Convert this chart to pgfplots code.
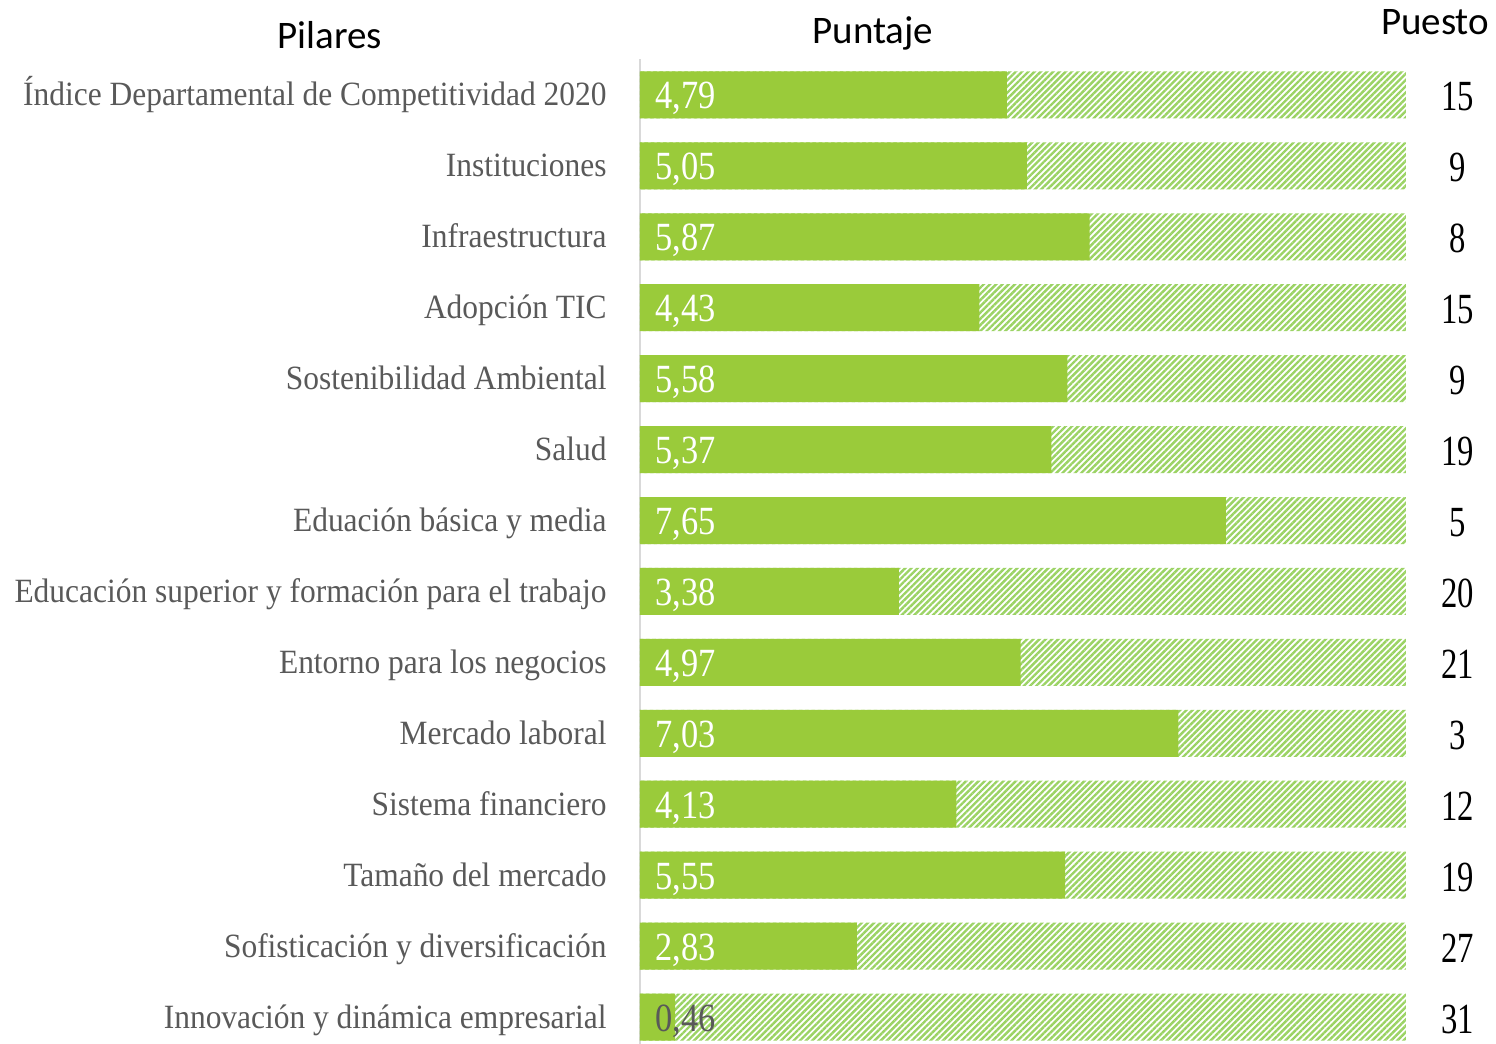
\documentclass[border=0pt]{standalone}
\usepackage{fontspec}
\usepackage{pgfplots}
\pgfplotsset{compat=1.18}
\usetikzlibrary{patterns.meta}
\newfontfamily\labfont[FakeStretch=0.925]{Liberation Serif}
\newfontfamily\numfont[FakeStretch=0.86]{Liberation Serif}
\newfontfamily\posfont[FakeStretch=0.76]{Liberation Serif}
\newfontfamily\headfont{Carlito}
\definecolor{barg}{RGB}{154,203,58}
\definecolor{hatchg}{RGB}{155,211,100}
\definecolor{labg}{RGB}{89,89,89}
\definecolor{axg}{RGB}{217,217,217}
\begin{document}
\begin{tikzpicture}
\begin{axis}[
  scale only axis, width=383pt, height=492.25pt,
  xmin=0, xmax=10, ymin=-0.5, ymax=13.38, y dir=reverse,
  axis x line=none, axis y line*=left,
  y axis line style={draw=axg, line width=1pt, -},
  ytick={0,...,13}, major tick length=0pt,
  yticklabels={Índice Departamental de Competitividad 2020, Instituciones, Infraestructura, Adopción TIC, Sostenibilidad Ambiental, Salud, Eduación básica y media, Educación superior y formación para el trabajo, Entorno para los negocios, Mercado laboral, Sistema financiero, Tamaño del mercado, Sofisticación y diversificación\hspace{4pt}, Innovación y dinámica empresarial},
  yticklabel style={font=\labfont\fontsize{17}{17}\selectfont, text=labg, anchor=base east, inner sep=0pt, xshift=-16.5pt, yshift=-5.5pt},
  clip=false,
]
\addplot[xbar, bar width=23.5pt, bar shift=0pt, draw=none, pattern={Lines[angle=45,distance=2.2pt,line width=1.2pt]}, pattern color=hatchg]
  coordinates {(10,0) (10,1) (10,2) (10,3) (10,4) (10,5) (10,6) (10,7) (10,8) (10,9) (10,10) (10,11) (10,12) (10,13)};
\addplot[xbar, bar width=23.5pt, bar shift=0pt, draw=none, fill=barg]
  coordinates {(4.79,0) (5.05,1) (5.87,2) (4.43,3) (5.58,4) (5.37,5) (7.65,6) (3.38,7) (4.97,8) (7.03,9) (4.13,10) (5.55,11) (2.83,12) (0.46,13)};
\addplot[draw=none, mark=none, nodes near coords, point meta=explicit symbolic,
  nodes near coords style={anchor=base west, inner sep=0pt, xshift=7.5pt, yshift=-7pt, text=white, font=\numfont\fontsize{20}{20}\selectfont}]
  coordinates {(0,0) [{4,79}] (0,1) [{5,05}] (0,2) [{5,87}] (0,3) [{4,43}] (0,4) [{5,58}] (0,5) [{5,37}] (0,6) [{7,65}] (0,7) [{3,38}] (0,8) [{4,97}] (0,9) [{7,03}] (0,10) [{4,13}] (0,11) [{5,55}] (0,12) [{2,83}] (0,13) [{\textcolor{labg}{0,46}}]};
\addplot[draw=none, mark=none, nodes near coords, point meta=explicit symbolic,
  nodes near coords style={anchor=base, inner sep=0pt, xshift=26pt, yshift=-8pt, text=black, font=\posfont\fontsize{21.5}{21.5}\selectfont}]
  coordinates {(10,0) [15] (10,1) [9] (10,2) [8] (10,3) [15] (10,4) [9] (10,5) [19] (10,6) [5] (10,7) [20] (10,8) [21] (10,9) [3] (10,10) [12] (10,11) [19] (10,12) [27] (10,13) [31]};
\node[font=\headfont\fontsize{19.5}{19.5}\selectfont] at (axis description cs:-0.405,1.025) {Pilares};
\node[font=\headfont\fontsize{19.5}{19.5}\selectfont] at (axis description cs:0.304,1.026) {Puntaje};
\node[font=\headfont\fontsize{19.5}{19.5}\selectfont] at (axis description cs:1.038,1.038) {Puesto};
\coordinate (bl) at (axis description cs:-0.8355,0);
\coordinate (tr) at (axis description cs:1.1175,1.0604);
\end{axis}
\pgfresetboundingbox
\path[use as bounding box] (bl) rectangle (tr);
\end{tikzpicture}
\end{document}
